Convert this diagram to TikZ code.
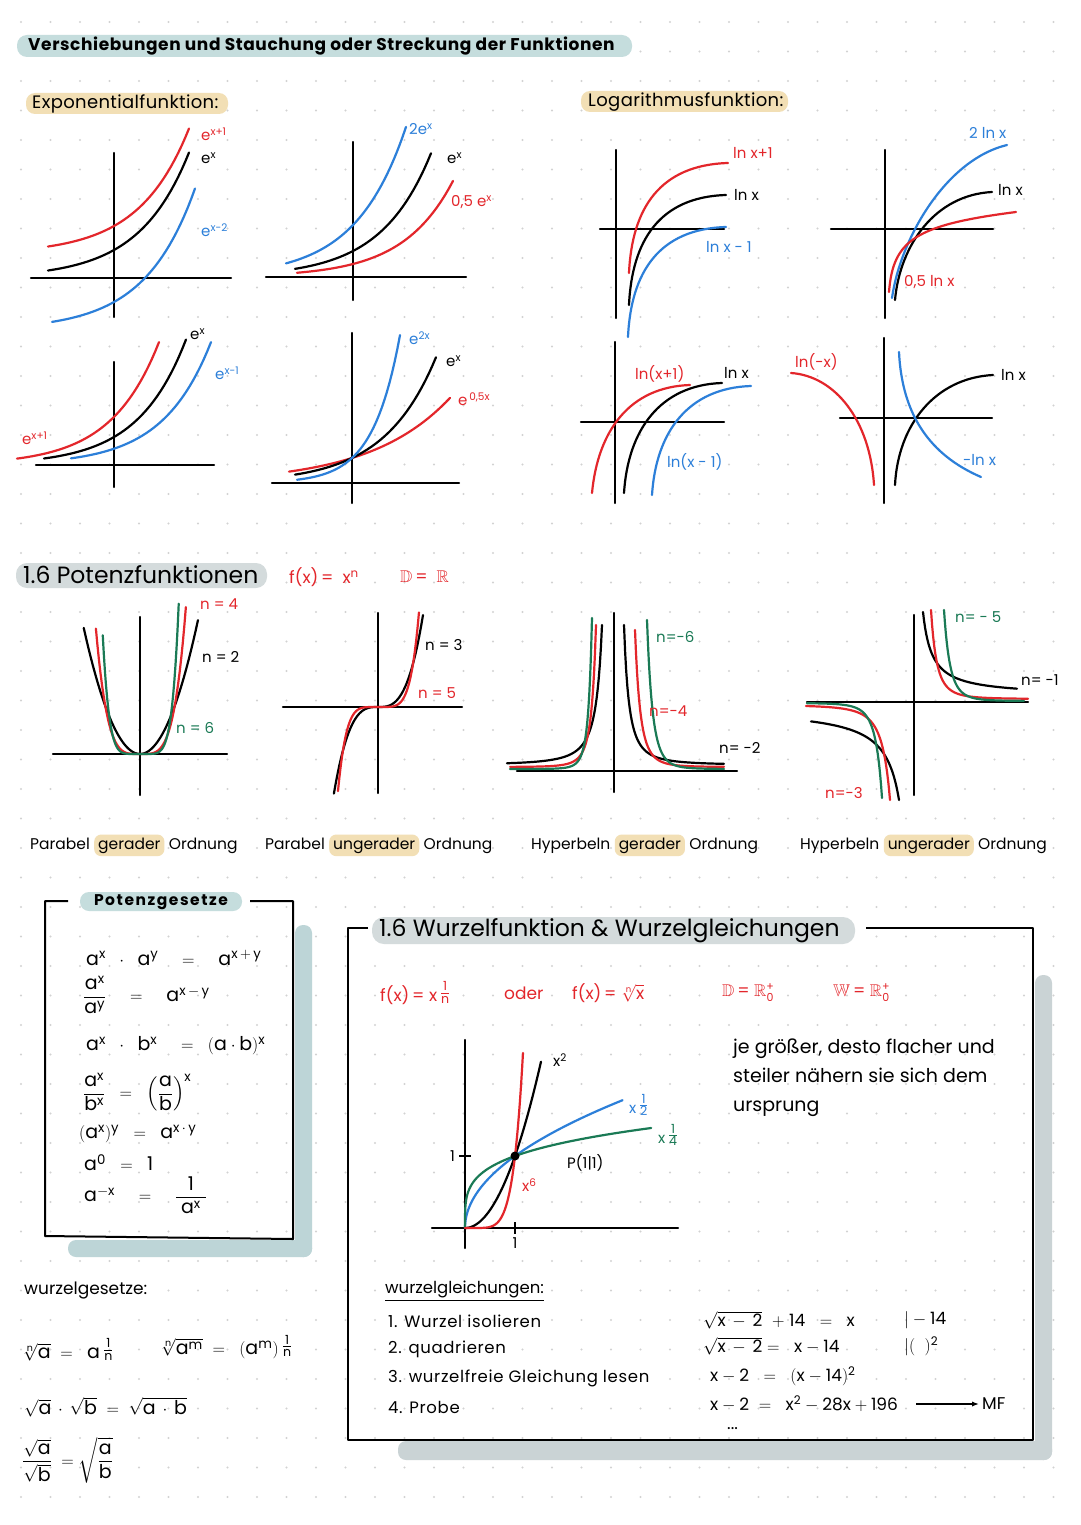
\documentclass[tikz,border=0pt]{standalone}
\usepackage{amsmath,amssymb}
\usepackage{fontspec}
\setmainfont{Poppins}
\usetikzlibrary{positioning,arrows.meta}

\definecolor{pred}{HTML}{E3262B}
\definecolor{pblue}{HTML}{2C7FD9}
\definecolor{pgreen}{HTML}{1A7A55}
\definecolor{hlteal}{HTML}{C5DDDD}
\definecolor{hlbeige}{HTML}{F2DFB5}
\definecolor{hlgrey}{HTML}{D4DBDC}
\definecolor{shteal}{HTML}{BDD5D7}
\definecolor{shgrey}{HTML}{CAD3D5}
\definecolor{griddot}{HTML}{D2D2D2}

\newcommand{\fr}[2]{\,\raisebox{4pt}{\fontsize{18}{18}\selectfont$\frac{\mathrm{#1}}{\mathrm{#2}}$}}
\newcommand{\Rnull}{$\mathbb{R}$\raisebox{-5pt}{\fontsize{11}{12}\selectfont\shortstack{+\\0}}}

\tikzset{
  axis/.style={line width=2.2pt, line cap=round},
  curve/.style={line width=2.2pt, line cap=round, line join=round},
  lbl/.style={inner sep=0pt, anchor=west, font=\fontsize{15}{17}\selectfont},
  hdr/.style={inner sep=0pt, anchor=west, font=\fontsize{18}{20}\addfontfeatures{LetterSpace=2}\selectfont},
  rhead/.style={inner sep=0pt, anchor=west, text=pred, font=\fontsize{17}{19}\selectfont},
  big/.style={inner sep=0pt, anchor=west, font=\fontsize{23.5}{26}\selectfont},
  capt/.style={inner sep=1pt, font=\fontsize{15.5}{17}\selectfont},
  hlword/.style={capt, fill=hlbeige, rounded corners=7pt, inner xsep=4pt, inner ysep=3pt},
  txt/.style={inner sep=0pt, anchor=west, font=\fontsize{17}{19}\selectfont},
  stp/.style={txt, font=\fontsize{16.5}{18}\addfontfeatures{LetterSpace=4}\selectfont},
  law/.style={inner sep=0pt, anchor=west, font=\fontsize{19}{21}\selectfont},
}

\begin{document}
\begin{tikzpicture}[x=1pt, y=-1pt]
\useasboundingbox (0,0) rectangle (1080,1525);
\fill[white] (0,0) rectangle (1080,1525);
% Punktraster
\foreach \i in {0,...,35}
  \foreach \j in {0,...,51}
    \fill[griddot] ({21+29.5*\i},{22+29.5*\j}) circle (1.2);

% Ueberschrift
\fill[hlteal, rounded corners=10pt] (17,35) rectangle (632,57);
\node[anchor=west, inner sep=0pt, font=\bfseries\fontsize{17}{19}\addfontfeatures{LetterSpace=3.5}\selectfont] (titel) at (28,46) {Verschiebungen und Stauchung oder Streckung der Funktionen};

% ---------------- Exponentialfunktion
\fill[hlbeige, rounded corners=9pt] (26,93) rectangle (228,114);
\node[hdr] (expt) at (32,104) {Exponentialfunktion:};

% e^x+1, e^x, e^x-2
\draw[axis] (31,278) -- (231,278);
\draw[axis] (114,153) -- (114,317);
\begin{scope}[shift={(114,278)}, y=1pt]
  \draw[curve, pred]  plot[domain=-66:75, samples=40] (\x, {28*exp(\x/50)+24});
  \draw[curve]        plot[domain=-66:75, samples=40] (\x, {28*exp(\x/50)});
  \draw[curve, pblue] plot[domain=-62:81, samples=40] (\x, {28*exp(\x/50)-52});
\end{scope}
\node[lbl, pred]  (ea1) at (201,134) {e\textsuperscript{x+1}};
\node[lbl]        (ea2) at (201,158) {e\textsuperscript{x}};
\node[lbl, pblue] (ea3) at (201,230) {e\textsuperscript{x-2}};

% 2e^x, e^x, 0,5e^x
\draw[axis] (266,277) -- (466,277);
\draw[axis] (353,142) -- (353,300);
\begin{scope}[shift={(353,277)}, y=1pt]
  \draw[curve, pblue] plot[domain=-67:53, samples=40] (\x, {52*exp(\x/50)});
  \draw[curve]        plot[domain=-58:78, samples=40] (\x, {26*exp(\x/50)});
  \draw[curve, pred]  plot[domain=-56:100, samples=40] (\x, {13*exp(\x/50)});
\end{scope}
\node[lbl, pblue] (eb1) at (409,129) {2e\textsuperscript{x}};
\node[lbl]        (eb2) at (447,158) {e\textsuperscript{x}};
\node[lbl, pred]  (eb3) at (451,202) {0,5 e\textsuperscript{x}};

% e^x+1, e^x, e^x-1
\draw[axis] (36,465) -- (214,465);
\draw[axis] (114,362) -- (114,487);
\begin{scope}[shift={(114,465)}, y=1pt]
  \draw[curve, pred]  plot[domain=-97:45, samples=40] (\x, {28*exp((\x+26)/48)});
  \draw[curve]        plot[domain=-70:72, samples=40] (\x, {28*exp(\x/48)});
  \draw[curve, pblue] plot[domain=-43:97, samples=40] (\x, {28*exp((\x-26)/48)});
\end{scope}
\node[lbl]        (ec1) at (190,334) {e\textsuperscript{x}};
\node[lbl, pblue] (ec2) at (215,373) {e\textsuperscript{x-1}};
\node[lbl, pred]  (ec3) at (22,438) {e\textsuperscript{x+1}};

% e^2x, e^x, e^0,5x
\draw[axis] (272,483) -- (459,483);
\draw[axis] (352,333) -- (352,503);
\begin{scope}[shift={(352,483)}, y=1pt]
  \draw[curve, pred]  plot[domain=-63:98, samples=40] (\x, {25*exp(\x/80)});
  \draw[curve]        plot[domain=-57:84, samples=40] (\x, {25*exp(\x/52)});
  \draw[curve, pblue] plot[domain=-55:48, samples=40] (\x, {25*exp(\x/27)});
\end{scope}
\node[lbl, pblue] (ed1) at (409,338) {e\textsuperscript{2x}};
\node[lbl]        (ed2) at (446,361) {e\textsuperscript{x}};
\node[lbl, pred]  (ed3) at (458,399) {e\textsuperscript{\,0,5x}};

% ---------------- Logarithmusfunktion
\fill[hlbeige, rounded corners=9pt] (581,91) rectangle (788,112);
\node[hdr] (logt) at (588,102) {Logarithmusfunktion:};

% ln x+1, ln x, ln x-1
\draw[axis] (600,229) -- (724,229);
\draw[axis] (616,150) -- (616,318);
\draw[curve, pred]  (629,273) .. controls (632,208) and (660,165) .. (728,163);
\draw[curve]        (629,305) .. controls (632,240) and (660,197) .. (726,195);
\draw[curve, pblue] (628,337) .. controls (631,272) and (659,229) .. (726,227);
\node[lbl, pred]  (la1) at (733,153) {ln x+1};
\node[lbl]        (la2) at (734,195) {ln x};
\node[lbl, pblue] (la3) at (706,247) {ln x - 1};

% 2 ln x, ln x, 0,5 ln x
\draw[axis] (831,229) -- (993,229);
\draw[axis] (885,150) -- (885,318);
\draw[curve, pblue] (892,298) .. controls (900,240) and (945,160) .. (1007,145);
\draw[curve]        (895,300) .. controls (900,245) and (935,195) .. (992,192);
\draw[curve, pred]  (889,292) .. controls (893,240) and (915,225) .. (1016,212);
\node[lbl, pblue] (lb1) at (969,133) {2 ln x};
\node[lbl]        (lb2) at (998,190) {ln x};
\node[lbl, pred]  (lb3) at (904,282) {0,5 ln x};

% ln(x+1), ln x, ln(x-1)
\draw[axis] (581,422) -- (724,422);
\draw[axis] (615,342) -- (615,503);
\draw[curve, pred]  (592,493) .. controls (598,430) and (630,387) .. (690,385);
\draw[curve]        (624,493) .. controls (628,430) and (660,385) .. (722,383);
\draw[curve, pblue] (652,495) .. controls (656,432) and (688,388) .. (751,386);
\node[lbl, pred]  (lc1) at (635,374) {ln(x+1)};
\node[lbl]        (lc2) at (724,373) {ln x};
\node[lbl, pblue] (lc3) at (667,462) {ln(x - 1)};

% ln(-x), ln x, -ln x
\draw[axis] (840,418) -- (992,418);
\draw[axis] (884,338) -- (884,503);
\draw[curve, pred]  (791,373) .. controls (835,376) and (870,420) .. (874,485);
\draw[curve]        (895,485) .. controls (898,425) and (935,378) .. (993,375);
\draw[curve, pblue] (899,352) .. controls (902,415) and (930,455) .. (981,477);
\node[lbl, pred]  (ld1) at (795,362) {ln(-x)};
\node[lbl]        (ld2) at (1001,375) {ln x};
\node[lbl, pblue] (ld3) at (963,460) {-ln x};

% ---------------- Potenzfunktionen
\fill[hlgrey, rounded corners=11pt] (16,563) rectangle (267,588);
\node[big] (pott) at (23,575) {1.6 Potenzfunktionen};
\node[rhead] (potf) at (289,577) {f(x)\,=\ \ x\textsuperscript{n}};
\node[rhead] (potd) at (400,577) {$\mathbb{D}$\,=\ \ $\mathbb{R}$};

% gerade Exponenten
\draw[axis] (53,754) -- (227,754);
\draw[axis] (140,617) -- (140,795);
\begin{scope}[shift={(140,754)}, y=1pt]
  \draw[curve]         plot[domain=-0.97:1, samples=50] ({58*\x}, {134*\x*\x});
  \draw[curve, pred]   plot[domain=-0.98:1.02, samples=60] ({45*\x}, {136*\x*\x*\x*\x});
  \draw[curve, pgreen] plot[domain=-0.98:1.02, samples=70] ({38*\x}, {134*\x*\x*\x*\x*\x*\x});
\end{scope}
\node[lbl, pred]   (pa1) at (200,604) {n = 4};
\node[lbl]         (pa2) at (202,657) {n = 2};
\node[lbl, pgreen] (pa3) at (176,728) {n = 6};

% ungerade Exponenten
\draw[axis] (283,707) -- (462,707);
\draw[axis] (378,613) -- (378,793);
\begin{scope}[shift={(378,707)}, y=1pt]
  \draw[curve]       plot[domain=-0.98:1, samples=50] ({45*\x}, {92*\x*\x*\x});
  \draw[curve, pred] plot[domain=-0.976:1, samples=60] ({41*\x}, {95*\x*\x*\x*\x*\x});
\end{scope}
\node[lbl]       (pb1) at (425,645) {n = 3};
\node[lbl, pred] (pb2) at (418,693) {n = 5};

% Hyperbeln gerader Ordnung
\draw[axis] (517,771) -- (737,771);
\draw[axis] (614,613) -- (614,792);
\begin{scope}[shift={(614,771)}, y=1pt]
  \draw[curve]         plot[domain=10:110, samples=90] (\x, {6+140*(10/\x)^2});
  \draw[curve]         plot[domain=12:107, samples=90] ({-\x}, {6+140*(12/\x)^2});
  \draw[curve, pred]   plot[domain=21:110, samples=90] (\x, {4+137*(21/\x)^4});
  \draw[curve, pred]   plot[domain=18:104, samples=90] ({-\x}, {4+142*(18/\x)^4});
  \draw[curve, pgreen] plot[domain=33:110, samples=90] (\x, {2+149*(33/\x)^6});
  \draw[curve, pgreen] plot[domain=22:104, samples=90] ({-\x}, {2+151*(22/\x)^6});
\end{scope}
\node[lbl, pgreen] (pc1) at (656,637) {n=-6};
\node[lbl, pred]   (pc2) at (649,711) {n=-4};
\node[lbl]         (pc3) at (719,748) {n= -2};

% Hyperbeln ungerader Ordnung
\draw[axis] (807,702) -- (1028,702);
\draw[axis] (914,615) -- (914,795);
\begin{scope}[shift={(914,702)}, y=1pt]
  \draw[curve]         plot[domain=9:103, samples=90] (\x, {6+84*(9/\x)});
  \draw[curve, pred]   plot[domain=17:114, samples=90] (\x, {3+89*(17/\x)^3});
  \draw[curve, pgreen] plot[domain=30:110, samples=90] (\x, {1+91*(30/\x)^5});
  \draw[curve]         plot[domain=15:103, samples=90] ({-\x}, {-6-92*(15/\x)});
  \draw[curve, pred]   plot[domain=24:108, samples=90] ({-\x}, {-3-95*(24/\x)^3});
  \draw[curve, pgreen] plot[domain=32:107, samples=90] ({-\x}, {-1-95*(32/\x)^5});
\end{scope}
\node[lbl, pgreen] (pd1) at (955,617) {n= - 5};
\node[lbl]         (pd2) at (1021,680) {n= -1};
\node[lbl, pred]   (pd3) at (825,793) {n=-3};

% Bildunterschriften
\node[capt, anchor=base west] (c1a) at (29,849) {Parabel};
\node[hlword, base right=3pt of c1a] (c1b) {gerader};
\node[capt, base right=3pt of c1b] (c1c) {Ordnung};
\node[capt, anchor=base west] (c2a) at (264,849) {Parabel};
\node[hlword, base right=3pt of c2a] (c2b) {ungerader};
\node[capt, base right=3pt of c2b] (c2c) {Ordnung};
\node[capt, anchor=base west] (c3a) at (530,849) {Hyperbeln};
\node[hlword, base right=3pt of c3a] (c3b) {gerader};
\node[capt, base right=3pt of c3b] (c3c) {Ordnung};
\node[capt, anchor=base west] (c4a) at (799,849) {Hyperbeln};
\node[hlword, base right=3pt of c4a] (c4b) {ungerader};
\node[capt, base right=3pt of c4b] (c4c) {Ordnung};

% ---------------- Potenzgesetze
\fill[shteal, rounded corners=8pt] (295,925) rectangle (312,1257);
\fill[shteal, rounded corners=8pt] (68,1240) rectangle (312,1257);
\draw[line width=2pt, line join=round] (68,901) -- (45,901) -- (45,1236) -- (293,1239) -- (293,901) -- (250,901);
\fill[hlteal, rounded corners=9pt] (80,892) rectangle (242,911);
\node[inner sep=0pt, font=\bfseries\fontsize{15.5}{17}\addfontfeatures{LetterSpace=10}\selectfont] (pgt) at (161,902) {Potenzgesetze};
\node[law] (pg1) at (86,958)  {$\mathrm{a^x \;\;\cdot\;\; a^y \quad=\quad a^{x\,+\,y}}$};
\node[law] (pg2) at (83,995)  {$\mathrm{\dfrac{a^x}{a^y} \quad=\quad a^{x\,-\,y}}$};
\node[law] (pg3) at (86,1046) {$\mathrm{a^x \;\;\cdot\;\; b^x \quad=\;\; (a\cdot b)^x}$};
\node[law] (pg4) at (83,1092) {$\mathrm{\dfrac{a^x}{b^x} \;\;=\;\; \left(\dfrac{a}{b}\right)^{x}}$};
\node[law] (pg5) at (79,1134) {$\mathrm{(a^x)^y \;\;=\;\; a^{x\,\cdot\,y}}$};
\node[law] (pg6) at (84,1163) {$\mathrm{a^0 \;\;=\;\; 1}$};
\node[law] (pg7) at (84,1195) {$\mathrm{a^{-x} \quad=\quad \dfrac{1}{\;a^x\;}}$};

% ---------------- Wurzelgesetze
\node[txt] (wgt) at (24,1290) {wurzelgesetze:};
\node[law] (wg1) at (22,1350) {$\sqrt[\mathrm{n}]{\mathrm{a}}\mathrm{\;\;=\;\; a}$\fr{1}{n}};
\node[law] (wg2) at (160,1347) {$\sqrt[\mathrm{n}]{\mathrm{a^m}}\mathrm{\;\;=\;\; (a^m)}$\fr{1}{n}};
\node[law] (wg3) at (24,1407) {$\sqrt{\mathrm{a}}\,\cdot\,\sqrt{\mathrm{b}}\mathrm{\;\;=\;\;}\sqrt{\mathrm{a\,\cdot\,b}}$};
\node[law] (wg4) at (22,1460) {$\dfrac{\sqrt{\mathrm{a}}}{\sqrt{\mathrm{b}}}\mathrm{\;\;=\;}\sqrt{\dfrac{\mathrm{a}}{\mathrm{b}}}$};

% ---------------- Wurzelfunktion
\fill[shgrey, rounded corners=8pt] (1035,975) rectangle (1052,1460);
\fill[shgrey, rounded corners=8pt] (398,1441) rectangle (1052,1460);
\draw[line width=2pt, line join=round] (368,928) -- (348,928) -- (348,1440) -- (1033,1440) -- (1033,928) -- (866,928);
\fill[hlgrey, rounded corners=12pt] (372,917) rectangle (855,944);
\node[big] (wft) at (379,931) {1.6 Wurzelfunktion \& Wurzelgleichungen};

\node[rhead] (wf1) at (380,993) {f(x)\,=\ x\fr{1}{n}};
\node[rhead] (wf2) at (504,993) {oder};
\node[rhead] (wf3) at (572,993) {f(x)\,=\ $\sqrt[\mathrm{n}]{\mathrm{x}}$};
\node[rhead] (wf4) at (722,993) {$\mathbb{D}$\,=\ \Rnull};
\node[rhead] (wf5) at (833,993) {$\mathbb{W}$\,=\ \Rnull};

% Graph der Wurzelfunktionen
\draw[axis] (432,1228) -- (678,1228);
\draw[axis] (465,1040) -- (465,1248);
\draw[line width=1.6pt] (459,1156) -- (471,1156);
\draw[line width=1.6pt] (515,1222) -- (515,1234);
\begin{scope}[shift={(465,1228)}, x=50pt, y=72pt]
  \draw[curve]         plot[domain=0:1.52, samples=40] (\x, {\x*\x});
  \draw[curve, pblue]  plot[domain=0:1.775, samples=50] ({\x*\x}, \x);
  \draw[curve, pgreen] plot[domain=0:1.39, samples=60] ({\x*\x*\x*\x}, \x);
  \draw[curve, pred]   plot[domain=0:1.16, samples=60] (\x, {\x*\x*\x*\x*\x*\x});
\end{scope}
\coordinate (P) at (515,1156);
\fill (P) circle (4.5);
\node[lbl, anchor=east] (ey) at (455,1156) {1};
\node[lbl, anchor=north] (ex) at (515,1237) {1};
\node[lbl]         (wx2) at (553,1060) {x\textsuperscript{2}};
\node[lbl, pblue]  (wx12) at (629,1105) {x\fr{1}{2}};
\node[lbl, pgreen] (wx14) at (658,1135) {x\fr{1}{4}};
\node[lbl]         (wp) at (567,1163) {P(1|1)};
\node[lbl, pred]   (wx6) at (522,1185) {x\textsuperscript{6}};

\node[txt, anchor=north west, align=left, font=\fontsize{19}{29}\selectfont] (jeg) at (733,1039) {je größer, desto flacher und\\steiler nähern sie sich dem\\ursprung};

% Wurzelgleichungen
\node[txt, font=\fontsize{16.5}{18}\selectfont] (wglt) at (385,1289) {wurzelgleichungen:};
\draw[line width=1.3pt] ([yshift=-3pt]wglt.south west) -- ([yshift=-3pt]wglt.south east);
\node[stp] (s1) at (388,1321) {1. Wurzel isolieren};
\node[stp] (s2) at (388,1349) {2. quadrieren};
\node[stp] (s3) at (388,1378) {3. wurzelfreie Gleichung lesen};
\node[stp] (s4) at (388,1407) {4. Probe};
\node[txt] (q1) at (703,1320) {$\sqrt{\mathrm{x\,-\,2}}\mathrm{\;\;+\;14 \;\;=\;\; x}$};
\node[txt] (q2) at (703,1346) {$\sqrt{\mathrm{x\,-\,2}}\mathrm{\;=\;\; x - 14}$};
\node[txt] (q3) at (710,1376) {$\mathrm{x - 2 \;\;=\;\; (x - 14)^2}$};
\node[txt] (q4) at (710,1404) {$\mathrm{x - 2 \;=\;\; x^2 - 28x + 196}$};
\node[txt] (r1) at (904,1320) {$\mathrm{|-14}$};
\node[txt] (r2) at (904,1346) {$\mathrm{|(\;\;)^2}$};
\node[txt] (mf) at (982,1404) {MF};
\draw[line width=1.4pt, -{Latex[length=7pt]}] ([xshift=18pt]q4.east) -- ([xshift=-3pt]mf.west);
\node[txt] (dots) at (727,1429) {...};
\end{tikzpicture}
\end{document}
